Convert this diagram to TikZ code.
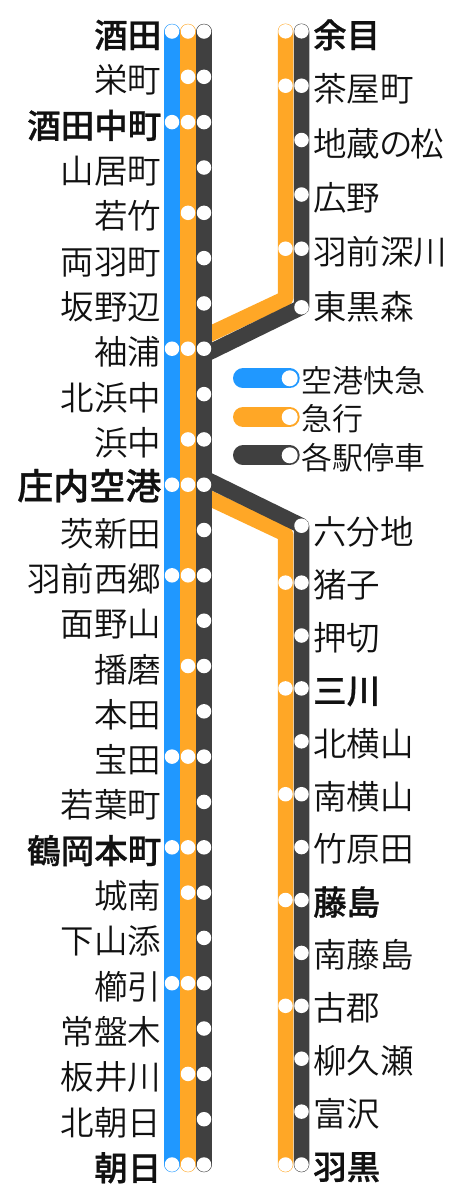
\documentclass[tikz,border=0pt]{standalone}
\usepackage{fontspec}
\setmainfont{Noto Sans CJK JP DemiLight}[BoldFont={Noto Sans CJK JP Medium},BoldFeatures={FakeBold=0.8}]
\usepackage{xcolor}
\usepackage{tikz}
\definecolor{RouteBlue}{HTML}{2098FF}
\definecolor{RouteOrange}{HTML}{FFA726}
\definecolor{RouteDark}{HTML}{404040}
\definecolor{RouteInk}{HTML}{111111}
\tikzset{
  routeline/.style={line width=15.5pt,line cap=round,line join=round},
  keyline/.style={line width=20pt,line cap=round},
  stopdot/.style={circle,fill=white,inner sep=0pt,minimum size=14.5pt},
  keydot/.style={circle,fill=white,inner sep=0pt,minimum size=16pt},
  nameleft/.style={anchor=base east,inner sep=0pt,text=RouteInk,font=\fontsize{33.5}{33.5}\selectfont},
  nameright/.style={anchor=base west,inner sep=0pt,text=RouteInk,font=\fontsize{33.5}{33.5}\selectfont},
  keyname/.style={anchor=base west,inner sep=0pt,text=RouteInk,font=\fontsize{31}{31}\selectfont},
  boldname/.style={font=\fontsize{33.5}{33.5}\selectfont\bfseries},
}
\begin{document}
\begin{tikzpicture}[x=1pt,y=-1pt]
  \useasboundingbox (0,0) rectangle (468,1200);
  % Line ends and bends.
  \coordinate (blueTop) at (172,31.5);
  \coordinate (blueEnd) at (172,1164.5);
  \coordinate (orangeTop) at (188,31.5);
  \coordinate (orangeEnd) at (188,1164.5);
  \coordinate (darkTop) at (204,31.5);
  \coordinate (darkEnd) at (204,1164.5);
  \coordinate (orangeNorthTop) at (285.5,31.3);
  \coordinate (orangeNorthBend) at (285.5,298.5);
  \coordinate (orangeNorthFoot) at (204,336.8);
  \coordinate (orangeSouthFoot) at (204,495.6);
  \coordinate (orangeSouthBend) at (285.5,534);
  \coordinate (orangeSouthEnd) at (285.5,1164.5);
  \coordinate (darkNorthTop) at (301.5,31.3);
  \coordinate (darkNorthBend) at (301.5,307.3);
  \coordinate (darkNorthFoot) at (204,355);
  \coordinate (darkSouthFoot) at (204,478);
  \coordinate (darkSouthBend) at (301.5,525.7);
  \coordinate (darkSouthEnd) at (301.5,1164.5);
  % Branches, orange first.
  \draw[routeline,RouteOrange] (orangeNorthTop) -- (orangeNorthBend) -- (orangeNorthFoot);
  \draw[routeline,RouteOrange] (orangeSouthFoot) -- (orangeSouthBend) -- (orangeSouthEnd);
  % Main trunk.
  \draw[routeline,RouteBlue] (blueTop) -- (blueEnd);
  \draw[routeline,RouteOrange] (orangeTop) -- (orangeEnd);
  \draw[routeline,RouteDark] (darkTop) -- (darkEnd);
  % Branches, dark over orange.
  \draw[routeline,RouteDark] (darkNorthTop) -- (darkNorthBend) -- (darkNorthFoot);
  \draw[routeline,RouteDark] (darkSouthFoot) -- (darkSouthBend) -- (darkSouthEnd);
  % Blue stops.
  \node[stopdot] (b00) at (172,31.5) {};
  \node[stopdot] (b02) at (172,122.1) {};
  \node[stopdot] (b07) at (172,348.7) {};
  \node[stopdot] (b10) at (172,484.7) {};
  \node[stopdot] (b12) at (172,575.3) {};
  \node[stopdot] (b16) at (172,756.6) {};
  \node[stopdot] (b18) at (172,847.3) {};
  \node[stopdot] (b21) at (172,983.2) {};
  \node[stopdot] (b25) at (172,1164.5) {};
  % Orange stops, trunk.
  \node[stopdot] (o00) at (188,31.5) {};
  \node[stopdot] (o01) at (188,76.8) {};
  \node[stopdot] (o02) at (188,122.1) {};
  \node[stopdot] (o04) at (188,212.8) {};
  \node[stopdot] (o07) at (188,348.7) {};
  \node[stopdot] (o09) at (188,439.4) {};
  \node[stopdot] (o10) at (188,484.7) {};
  \node[stopdot] (o12) at (188,575.3) {};
  \node[stopdot] (o14) at (188,666) {};
  \node[stopdot] (o16) at (188,756.6) {};
  \node[stopdot] (o18) at (188,847.3) {};
  \node[stopdot] (o19) at (188,892.6) {};
  \node[stopdot] (o21) at (188,983.2) {};
  \node[stopdot] (o23) at (188,1073.9) {};
  \node[stopdot] (o25) at (188,1164.5) {};
  % Orange stops, branches.
  \node[stopdot] (p00) at (285.5,31.3) {};
  \node[stopdot] (p01) at (285.5,85.7) {};
  \node[stopdot] (p04) at (285.5,248.7) {};
  \node[stopdot] (q01) at (285.5,582.6) {};
  \node[stopdot] (q03) at (285.5,688.4) {};
  \node[stopdot] (q05) at (285.5,794.2) {};
  \node[stopdot] (q07) at (285.5,900) {};
  \node[stopdot] (q09) at (285.5,1005.8) {};
  \node[stopdot] (q12) at (285.5,1164.5) {};
  % Dark stops, trunk.
  \node[stopdot] (d00) at (204,31.5) {};
  \node[stopdot] (d01) at (204,76.8) {};
  \node[stopdot] (d02) at (204,122.1) {};
  \node[stopdot] (d03) at (204,167.5) {};
  \node[stopdot] (d04) at (204,212.8) {};
  \node[stopdot] (d05) at (204,258.1) {};
  \node[stopdot] (d06) at (204,303.4) {};
  \node[stopdot] (d07) at (204,348.7) {};
  \node[stopdot] (d08) at (204,394.1) {};
  \node[stopdot] (d09) at (204,439.4) {};
  \node[stopdot] (d10) at (204,484.7) {};
  \node[stopdot] (d11) at (204,530) {};
  \node[stopdot] (d12) at (204,575.3) {};
  \node[stopdot] (d13) at (204,620.7) {};
  \node[stopdot] (d14) at (204,666) {};
  \node[stopdot] (d15) at (204,711.3) {};
  \node[stopdot] (d16) at (204,756.6) {};
  \node[stopdot] (d17) at (204,801.9) {};
  \node[stopdot] (d18) at (204,847.3) {};
  \node[stopdot] (d19) at (204,892.6) {};
  \node[stopdot] (d20) at (204,937.9) {};
  \node[stopdot] (d21) at (204,983.2) {};
  \node[stopdot] (d22) at (204,1028.5) {};
  \node[stopdot] (d23) at (204,1073.9) {};
  \node[stopdot] (d24) at (204,1119.2) {};
  \node[stopdot] (d25) at (204,1164.5) {};
  % Dark stops, branches.
  \node[stopdot] (e00) at (301.5,31.3) {};
  \node[stopdot] (e01) at (301.5,85.7) {};
  \node[stopdot] (e02) at (301.5,140) {};
  \node[stopdot] (e03) at (301.5,194.5) {};
  \node[stopdot] (e04) at (301.5,248.7) {};
  \node[stopdot] (e05) at (301.5,307.3) {};
  \node[stopdot] (f00) at (301.5,525.7) {};
  \node[stopdot] (f01) at (301.5,582.6) {};
  \node[stopdot] (f02) at (301.5,635.5) {};
  \node[stopdot] (f03) at (301.5,688.4) {};
  \node[stopdot] (f04) at (301.5,741.3) {};
  \node[stopdot] (f05) at (301.5,794.2) {};
  \node[stopdot] (f06) at (301.5,847.1) {};
  \node[stopdot] (f07) at (301.5,900) {};
  \node[stopdot] (f08) at (301.5,952.9) {};
  \node[stopdot] (f09) at (301.5,1005.8) {};
  \node[stopdot] (f10) at (301.5,1058.7) {};
  \node[stopdot] (f11) at (301.5,1111.6) {};
  \node[stopdot] (f12) at (301.5,1164.5) {};
  % Trunk names.
  \node[nameleft,boldname] (n00) at (161.5,47.5) {酒田};
  \node[nameleft] (n01) at (161.5,92.8) {栄町};
  \node[nameleft,boldname] (n02) at (161.5,138.1) {酒田中町};
  \node[nameleft] (n03) at (161.5,183.5) {山居町};
  \node[nameleft] (n04) at (161.5,228.8) {若竹};
  \node[nameleft] (n05) at (161.5,274.1) {両羽町};
  \node[nameleft] (n06) at (161.5,319.4) {坂野辺};
  \node[nameleft] (n07) at (161.5,364.7) {袖浦};
  \node[nameleft] (n08) at (161.5,410.1) {北浜中};
  \node[nameleft] (n09) at (161.5,455.4) {浜中};
  \node[nameleft,font=\fontsize{36}{36}\selectfont\bfseries] (n10) at (161.5,499.3) {庄内空港};
  \node[nameleft] (n11) at (161.5,546) {茨新田};
  \node[nameleft] (n12) at (161.5,591.3) {羽前西郷};
  \node[nameleft] (n13) at (161.5,636.7) {面野山};
  \node[nameleft] (n14) at (161.5,682) {播磨};
  \node[nameleft] (n15) at (161.5,727.3) {本田};
  \node[nameleft] (n16) at (161.5,772.6) {宝田};
  \node[nameleft] (n17) at (161.5,817.9) {若葉町};
  \node[nameleft,boldname] (n18) at (161.5,863.3) {鶴岡本町};
  \node[nameleft] (n19) at (161.5,908.6) {城南};
  \node[nameleft] (n20) at (161.5,953.9) {下山添};
  \node[nameleft] (n21) at (161.5,999.2) {櫛引};
  \node[nameleft] (n22) at (161.5,1044.5) {常盤木};
  \node[nameleft] (n23) at (161.5,1089.9) {板井川};
  \node[nameleft] (n24) at (161.5,1135.2) {北朝日};
  \node[nameleft,boldname] (n25) at (161.5,1180.5) {朝日};
  % Branch names.
  \node[nameright,boldname] (m00) at (313,47.5) {余目};
  \node[nameright] (m01) at (313,101.9) {茶屋町};
  \node[nameright] (m02) at (313,156.2) {地蔵\kern-1pt の\kern-2pt 松};
  \node[nameright] (m03) at (313,210.5) {広野};
  \node[nameright] (m04) at (313,264.9) {羽前深川};
  \node[nameright] (m05) at (313,319.3) {東黒森};
  \node[nameright] (s00) at (313,544.5) {六分地};
  \node[nameright] (s01) at (313,597.4) {猪子};
  \node[nameright] (s02) at (313,650.3) {押切};
  \node[nameright,boldname] (s03) at (313,703.2) {三川};
  \node[nameright] (s04) at (313,756.1) {北横山};
  \node[nameright] (s05) at (313,809) {南横山};
  \node[nameright] (s06) at (313,861.9) {竹原田};
  \node[nameright,boldname] (s07) at (313,914.8) {藤島};
  \node[nameright] (s08) at (313,967.7) {南藤島};
  \node[nameright] (s09) at (313,1020.6) {古郡};
  \node[nameright] (s10) at (313,1073.5) {柳久瀬};
  \node[nameright] (s11) at (313,1126.4) {富沢};
  \node[nameright,boldname] (s12) at (313,1179.3) {羽黒};
  % Key.
  \coordinate (keyBlue) at (243,378.3);
  \node[keydot,fill=none] (keyBlueDot) at (289.7,378.3) {};
  \draw[keyline,RouteBlue] (keyBlue) -- (keyBlueDot.center);
  \node[keydot] (keyBlueTop) at (keyBlueDot) {};
  \node[keyname] (keyBlueName) at (301.7,392.5) {空港快急};
  \coordinate (keyOrange) at (243,417);
  \node[keydot,fill=none] (keyOrangeDot) at (289.7,417) {};
  \draw[keyline,RouteOrange] (keyOrange) -- (keyOrangeDot.center);
  \node[keydot] (keyOrangeTop) at (keyOrangeDot) {};
  \node[keyname] (keyOrangeName) at (301.7,430.8) {急行};
  \coordinate (keyDark) at (243,455.3);
  \node[keydot,fill=none] (keyDarkDot) at (289.7,455.3) {};
  \draw[keyline,RouteDark] (keyDark) -- (keyDarkDot.center);
  \node[keydot] (keyDarkTop) at (keyDarkDot) {};
  \node[keyname] (keyDarkName) at (301.7,469.1) {各駅停車};
\end{tikzpicture}
\end{document}
